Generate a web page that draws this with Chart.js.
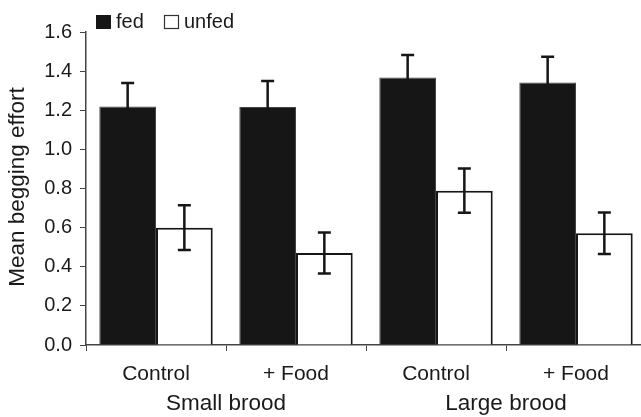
<!DOCTYPE html>
<html>
<head>
<meta charset="utf-8">
<script src="https://cdn.jsdelivr.net/npm/chart.js@4"></script>
<style>
html,body{margin:0;padding:0;background:#fff;overflow:hidden;}
#wrap{width:650px;height:417px;}
</style>
</head>
<body>
<div id="wrap"><canvas id="c" width="650" height="417"></canvas></div>
<script>
const categories = ['Control', '+ Food', 'Control', '+ Food'];
const groups = ['Small brood', 'Large brood'];
const seriesNames = ['fed', 'unfed'];
const fedValues = [1.219, 1.216, 1.367, 1.342];
const fedErrors = [0.12, 0.133, 0.116, 0.131];
const unfedValues = [0.60, 0.47, 0.789, 0.571];
const unfedErrors = [0.115, 0.105, 0.113, 0.106];
const yTicks = [0, 0.2, 0.4, 0.6, 0.8, 1.0, 1.2, 1.4, 1.6];

const FONT = 'Liberation Sans, Arial, sans-serif';
const TXT = '#1a1a1a';
const DARK = '#161616';

const errorBars = {
  id: 'errorBars',
  afterDatasetsDraw(chart) {
    const ctx = chart.ctx;
    const ys = chart.scales.y;
    chart.data.datasets.forEach((ds, di) => {
      const meta = chart.getDatasetMeta(di);
      meta.data.forEach((bar, i) => {
        const v = ds.data[i], e = ds.errors[i];
        const yt = ys.getPixelForValue(v + e);
        const yb = ys.getPixelForValue(v - e);
        ctx.save();
        ctx.strokeStyle = DARK;
        ctx.lineWidth = 2.5;
        ctx.beginPath();
        ctx.moveTo(bar.x, yt); ctx.lineTo(bar.x, yb);
        ctx.moveTo(bar.x - 6.5, yt); ctx.lineTo(bar.x + 6.5, yt);
        ctx.moveTo(bar.x - 6.5, yb); ctx.lineTo(bar.x + 6.5, yb);
        ctx.stroke();
        ctx.restore();
      });
    });
  }
};

const extras = {
  id: 'extras',
  afterDraw(chart) {
    const ctx = chart.ctx;
    const xs = chart.scales.x;
    ctx.save();
    ctx.fillStyle = TXT;
    ctx.font = '22.5px ' + FONT;
    ctx.textBaseline = 'middle';
    ctx.textAlign = 'center';
    groups.forEach((g, gi) => {
      const x = (xs.getPixelForValue(gi * 2) + xs.getPixelForValue(gi * 2 + 1)) / 2;
      ctx.fillText(g, x, 404);
    });
    // y title
    ctx.save();
    ctx.font = '22.5px ' + FONT;
    ctx.translate(18, 187);
    ctx.rotate(-Math.PI / 2);
    ctx.fillText('Mean begging effort', 0, 0);
    ctx.restore();
    // legend
    ctx.font = '20px ' + FONT;
    ctx.textAlign = 'left';
    ctx.fillStyle = DARK;
    ctx.fillRect(96, 15, 15, 14);
    ctx.fillStyle = TXT;
    ctx.fillText(seriesNames[0], 116, 22);
    ctx.strokeStyle = '#333';
    ctx.lineWidth = 1.2;
    ctx.strokeRect(164.5, 15.5, 14, 13);
    ctx.fillText(seriesNames[1], 184, 22);
    ctx.restore();
  }
};

new Chart(document.getElementById('c'), {
  type: 'bar',
  data: {
    labels: categories,
    datasets: [
      { label: seriesNames[0], data: fedValues, errors: fedErrors,
        backgroundColor: DARK, borderColor: '#444', borderWidth: 1 },
      { label: seriesNames[1], data: unfedValues, errors: unfedErrors,
        backgroundColor: '#ffffff', borderColor: DARK, borderWidth: 2 }
    ]
  },
  options: {
    responsive: false,
    animation: false,
    events: [],
    layout: { padding: { left: 0, right: 4, top: 32, bottom: 0 } },
    datasets: { bar: { categoryPercentage: 0.81, barPercentage: 1.0 } },
    plugins: { legend: { display: false }, tooltip: { enabled: false } },
    scales: {
      x: {
        grid: { display: true, drawOnChartArea: false, drawTicks: true, tickLength: 6, color: '#444', offset: true },
        border: { display: true, color: '#444', width: 1.5 },
        ticks: { color: TXT, font: { family: FONT, size: 21 }, padding: 11, maxRotation: 0 },
        afterFit(s) { s.height = 72; }
      },
      y: {
        min: 0, max: 1.6,
        afterBuildTicks(s) { s.ticks = yTicks.map(v => ({ value: v })); },
        grid: { display: true, drawOnChartArea: false, drawTicks: true, tickLength: 6, color: '#444' },
        border: { display: true, color: '#444', width: 1.5 },
        ticks: { color: TXT, font: { family: FONT, size: 20 }, padding: 8, callback: v => v.toFixed(1) },
        afterFit(s) { s.width = 86; }
      }
    }
  },
  plugins: [errorBars, extras]
});
</script>
</body>
</html>
